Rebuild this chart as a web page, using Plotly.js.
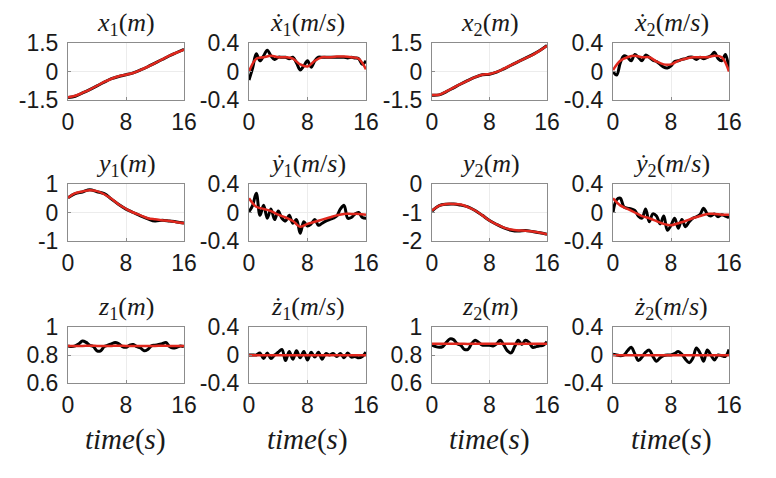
<!DOCTYPE html>
<html>
<head>
<meta charset="utf-8">
<script src="https://cdn.plot.ly/plotly-3.0.1.min.js"></script>
<style>html,body{margin:0;padding:0;background:#fff;}#chart{width:776px;height:478px;}</style>
</head>
<body>
<div id="chart"></div>
<script>
// time bases
const tCoarse = [0,1,2,3,4,5,6,7,8,9,10,11,12,13,14,15,16];
const tFine = [0,0.5,1,1.5,2,2.5,3,3.5,4,4.5,5,5.5,6,6.5,7,7.5,8,8.5,9,9.5,10,10.5,11,11.5,12,12.5,13,13.5,14,14.5,15,15.5,16];

// panel titles
const panelTitles = [
  "<i>x</i><sub>1</sub>(<i>m</i>)", "<i>ẋ</i><sub>1</sub>(<i>m</i>/<i>s</i>)", "<i>x</i><sub>2</sub>(<i>m</i>)", "<i>ẋ</i><sub>2</sub>(<i>m</i>/<i>s</i>)",
  "<i>y</i><sub>1</sub>(<i>m</i>)", "<i>ẏ</i><sub>1</sub>(<i>m</i>/<i>s</i>)", "<i>y</i><sub>2</sub>(<i>m</i>)", "<i>ẏ</i><sub>2</sub>(<i>m</i>/<i>s</i>)",
  "<i>z</i><sub>1</sub>(<i>m</i>)", "<i>ż</i><sub>1</sub>(<i>m</i>/<i>s</i>)", "<i>z</i><sub>2</sub>(<i>m</i>)", "<i>ż</i><sub>2</sub>(<i>m</i>/<i>s</i>)"
];
const xLabel = "<i>time</i>(<i>s</i>)";
const xTicks = [0, 8, 16];
const xTickText = ["0", "8", "16"];

// y tick values / labels per panel
const yTicksPos = [-1.5, 0, 1.5];   const yTextPos = ["-1.5", "0", "1.5"];
const yTicksVel = [-0.4, 0, 0.4];   const yTextVel = ["-0.4", "0", "0.4"];
const yTicksY1 = [-1, 0, 1];        const yTextY1 = ["-1", "0", "1"];
const yTicksY2 = [-2, -1, 0];       const yTextY2 = ["-2", "-1", "0"];
const yTicksZ = [0.6, 0.8, 1];      const yTextZ = ["0.6", "0.8", "1"];

// ---- row 1 ----
const x1Black = [-1.37,-1.3,-1.13,-0.95,-0.76,-0.56,-0.38,-0.26,-0.17,-0.07,0.08,0.25,0.44,0.63,0.83,1.0,1.17];
const x1Red   = [-1.35,-1.28,-1.12,-0.95,-0.75,-0.55,-0.38,-0.25,-0.17,-0.08,0.08,0.25,0.44,0.64,0.83,1.0,1.15];
const vx1Black = [-0.12,0.05,0.25,0.15,0.22,0.3,0.22,0.17,0.2,0.2,0.2,0.18,0.2,0.12,0.02,0.08,0.15,0.06,0.15,0.2,0.2,0.2,0.2,0.2,0.2,0.2,0.2,0.19,0.2,0.19,0.18,0.1,0.15];
const vx1Red   = [0.0,0.18,0.2,0.22,0.2,0.2,0.18,0.1,0.07,0.15,0.2,0.2,0.21,0.21,0.2,0.18,0.03];
const x2Black = [-1.25,-1.23,-1.06,-0.86,-0.66,-0.47,-0.3,-0.17,-0.14,-0.03,0.14,0.33,0.52,0.7,0.89,1.1,1.37];
const x2Red   = [-1.24,-1.22,-1.05,-0.85,-0.65,-0.47,-0.3,-0.17,-0.13,-0.02,0.15,0.33,0.52,0.7,0.88,1.1,1.35];
const vx2Black = [0.0,-0.05,0.12,0.22,0.2,0.15,0.24,0.2,0.15,0.23,0.2,0.16,0.14,0.1,0.06,0.05,0.08,0.14,0.15,0.17,0.18,0.2,0.2,0.17,0.2,0.18,0.2,0.22,0.27,0.18,0.15,0.24,0.02];
const vx2Red   = [0.02,0.15,0.2,0.22,0.2,0.2,0.14,0.1,0.1,0.15,0.18,0.2,0.2,0.2,0.22,0.2,0.0];

// ---- row 2 ----
const y1Black = [0.52,0.66,0.72,0.8,0.73,0.66,0.47,0.28,0.12,0.0,-0.12,-0.22,-0.3,-0.27,-0.3,-0.33,-0.37];
const y1Red   = [0.52,0.68,0.74,0.78,0.75,0.64,0.48,0.28,0.13,0.0,-0.1,-0.2,-0.24,-0.27,-0.3,-0.34,-0.38];
const vy1Black = [0.01,0.1,0.27,-0.04,0.1,-0.08,0.05,-0.1,0.02,-0.08,-0.12,-0.04,-0.15,-0.1,-0.29,-0.13,-0.19,-0.16,-0.1,-0.18,-0.15,-0.12,-0.1,-0.08,-0.05,0.05,0.1,-0.08,-0.07,-0.02,0.0,-0.07,-0.08];
const vy1Red   = [0.2,0.08,0.05,0.02,-0.03,-0.07,-0.12,-0.2,-0.16,-0.13,-0.1,-0.07,-0.04,-0.02,-0.02,-0.02,-0.03];
const y2Black = [-0.95,-0.76,-0.71,-0.7,-0.74,-0.8,-0.93,-1.1,-1.28,-1.42,-1.54,-1.62,-1.65,-1.63,-1.67,-1.71,-1.76];
const y2Red   = [-0.93,-0.76,-0.7,-0.7,-0.72,-0.81,-0.93,-1.1,-1.28,-1.42,-1.53,-1.6,-1.63,-1.64,-1.67,-1.71,-1.76];
const vy2Black = [0.0,0.18,0.2,0.08,0.06,0.05,0.03,-0.05,-0.08,0.05,-0.13,-0.02,-0.05,-0.16,-0.05,-0.25,-0.18,-0.08,-0.22,-0.1,-0.2,-0.13,-0.08,-0.06,-0.03,0.06,-0.02,-0.05,-0.02,-0.06,-0.03,-0.05,-0.07];
const vy2Red   = [0.2,0.1,0.05,0.0,-0.05,-0.08,-0.12,-0.16,-0.18,-0.15,-0.12,-0.08,-0.05,-0.02,-0.02,-0.03,-0.03];

// ---- row 3 ----
const z1Black = [0.865,0.86,0.865,0.88,0.9,0.89,0.87,0.86,0.83,0.83,0.86,0.87,0.88,0.89,0.88,0.86,0.855,0.87,0.875,0.86,0.85,0.83,0.84,0.865,0.87,0.875,0.88,0.89,0.86,0.85,0.855,0.865,0.86];
const z1Red   = [0.865,0.865,0.865,0.866,0.865,0.864,0.865,0.866,0.865,0.865,0.864,0.865,0.865,0.866,0.865,0.865,0.865];
const vz1Black = [0.0,0.0,0.0,0.03,-0.05,0.03,-0.05,0.0,0.04,0.08,-0.08,0.05,-0.06,0.06,-0.04,0.05,-0.07,0.04,-0.03,0.04,-0.06,0.02,0.0,0.02,-0.02,0.02,-0.04,0.03,-0.03,-0.02,-0.04,-0.02,0.04];
const vz1Red   = [-0.005,-0.005,-0.005,-0.005,-0.005,-0.005,-0.005,-0.005,-0.005,-0.005,-0.005,-0.005,-0.005,-0.005,-0.005,-0.005,-0.005];
const z2Black = [0.87,0.86,0.855,0.86,0.89,0.915,0.91,0.88,0.87,0.84,0.84,0.88,0.905,0.89,0.87,0.87,0.87,0.865,0.88,0.905,0.87,0.83,0.815,0.86,0.905,0.875,0.905,0.89,0.855,0.86,0.865,0.87,0.895];
const z2Red   = [0.88,0.88,0.881,0.88,0.88,0.879,0.88,0.88,0.88,0.881,0.88,0.88,0.879,0.88,0.88,0.88,0.88];
const vz2Black = [0.01,0.0,-0.01,0.0,0.06,0.11,0.02,-0.08,-0.03,0.04,0.07,-0.02,-0.09,-0.04,-0.01,0.0,0.0,0.02,0.05,0.01,-0.06,-0.11,-0.05,0.1,0.03,-0.09,0.07,0.0,-0.07,0.0,-0.01,-0.02,0.08];
const vz2Red   = [-0.005,-0.005,-0.005,-0.005,-0.005,-0.005,-0.005,-0.005,-0.005,-0.005,-0.005,-0.005,-0.005,-0.005,-0.005,-0.005,-0.005];

// panel config (row-major)
const panels = [
  {b: x1Black, bt: tCoarse, r: x1Red, range: [-1.5,1.5], tv: yTicksPos, tt: yTextPos},
  {b: vx1Black, bt: tFine, r: vx1Red, range: [-0.4,0.4], tv: yTicksVel, tt: yTextVel},
  {b: x2Black, bt: tCoarse, r: x2Red, range: [-1.5,1.5], tv: yTicksPos, tt: yTextPos},
  {b: vx2Black, bt: tFine, r: vx2Red, range: [-0.4,0.4], tv: yTicksVel, tt: yTextVel},
  {b: y1Black, bt: tCoarse, r: y1Red, range: [-1,1], tv: yTicksY1, tt: yTextY1},
  {b: vy1Black, bt: tFine, r: vy1Red, range: [-0.4,0.4], tv: yTicksVel, tt: yTextVel},
  {b: y2Black, bt: tCoarse, r: y2Red, range: [-2,0], tv: yTicksY2, tt: yTextY2},
  {b: vy2Black, bt: tFine, r: vy2Red, range: [-0.4,0.4], tv: yTicksVel, tt: yTextVel},
  {b: z1Black, bt: tFine, r: z1Red, range: [0.6,1], tv: yTicksZ, tt: yTextZ},
  {b: vz1Black, bt: tFine, r: vz1Red, range: [-0.4,0.4], tv: yTicksVel, tt: yTextVel},
  {b: z2Black, bt: tFine, r: z2Red, range: [0.6,1], tv: yTicksZ, tt: yTextZ},
  {b: vz2Black, bt: tFine, r: vz2Red, range: [-0.4,0.4], tv: yTicksVel, tt: yTextVel}
];

const W = 776, H = 478;
const colPx = [[68,184],[249,366],[432,547],[613,729]];
const rowPx = [[43,100],[184,241],[327,383]];

const tickFont = {family: "Liberation Sans, Arial, sans-serif", size: 23, color: "#1a1a1a"};
const titleFont = {family: "Liberation Serif, Times New Roman, serif", size: 26, color: "#1a1a1a"};

const data = [];
const layout = {
  width: W, height: H,
  margin: {l:0, r:0, t:0, b:0},
  paper_bgcolor: "#fff", plot_bgcolor: "#fff",
  showlegend: false,
  annotations: []
};

panels.forEach((p, i) => {
  const row = Math.floor(i / 4), col = i % 4;
  const n = i + 1;
  const xa = n === 1 ? "x" : "x" + n;
  const ya = n === 1 ? "y" : "y" + n;
  const xd = [colPx[col][0] / W, colPx[col][1] / W];
  const yd = [1 - rowPx[row][1] / H, 1 - rowPx[row][0] / H];
  const common = {
    showline: true, mirror: true, linecolor: "#8c8c8c", linewidth: 1,
    ticks: "inside", ticklen: 3, tickcolor: "#8c8c8c",
    showgrid: true, gridcolor: "#ececec", gridwidth: 1, zeroline: false,
    tickfont: tickFont, fixedrange: true
  };
  layout["xaxis" + (n === 1 ? "" : n)] = Object.assign({}, common, {
    domain: xd, anchor: ya, range: [0, 16], tickmode: "array",
    tickvals: xTicks, ticktext: xTickText, ticklabelstandoff: 1
  });
  layout["yaxis" + (n === 1 ? "" : n)] = Object.assign({}, common, {
    domain: yd, anchor: xa, range: p.range, tickmode: "array",
    tickvals: p.tv, ticktext: p.tt, ticklabelstandoff: 4
  });
  data.push({
    x: p.bt, y: p.b, xaxis: xa, yaxis: ya, type: "scatter", mode: "lines",
    line: {color: "#000000", width: 3, shape: "spline", smoothing: 1}, hoverinfo: "skip"
  });
  data.push({
    x: tCoarse, y: p.r, xaxis: xa, yaxis: ya, type: "scatter", mode: "lines",
    line: {color: "#e0281e", width: 2.5, shape: "spline", smoothing: 1}, hoverinfo: "skip"
  });
  layout.annotations.push({
    text: panelTitles[i], xref: "paper", yref: "paper",
    x: (xd[0] + xd[1]) / 2, y: yd[1], xanchor: "center", yanchor: "bottom",
    yshift: 1, showarrow: false, font: titleFont
  });
  if (row === 2) {
    layout.annotations.push({
      text: xLabel, xref: "paper", yref: "paper",
      x: (xd[0] + xd[1]) / 2, y: yd[0], xanchor: "center", yanchor: "top",
      yshift: -38, showarrow: false, font: {family: titleFont.family, size: 29, color: "#1a1a1a"}
    });
  }
});

Plotly.newPlot("chart", data, layout, {displayModeBar: false, staticPlot: true});
</script>
</body>
</html>
